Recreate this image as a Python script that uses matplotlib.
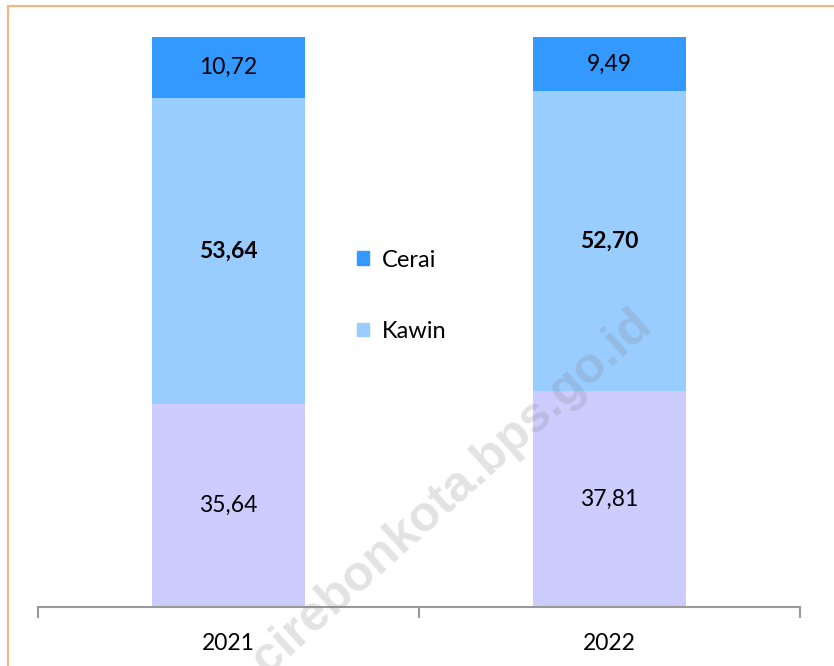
import matplotlib
matplotlib.use("Agg")
import matplotlib.pyplot as plt
from matplotlib.patches import Patch, Rectangle

# data (percent)
years = ["2021", "2022"]
belum_kawin = [35.64, 37.81]
kawin = [53.64, 52.70]
cerai = [10.72, 9.49]

c_belum = "#CCCCFF"
c_kawin = "#99CCFF"
c_cerai = "#3399FF"

plt.rcParams["font.family"] = ["Lato", "DejaVu Sans"]

fig = plt.figure(figsize=(8.34, 6.66), dpi=100)
ax = fig.add_axes([38 / 834, 59 / 666, 762 / 834, 570 / 666])

x = range(len(years))
w = 0.4
ax.bar(x, belum_kawin, w, color=c_belum, linewidth=0)
ax.bar(x, kawin, w, bottom=belum_kawin, color=c_kawin, linewidth=0)
bottom2 = [a + b for a, b in zip(belum_kawin, kawin)]
ax.bar(x, cerai, w, bottom=bottom2, color=c_cerai, linewidth=0)

def fmt(v):
    return f"{v:.2f}".replace(".", ",")

for i in x:
    ax.text(i, belum_kawin[i] / 2, fmt(belum_kawin[i]), ha="center", va="center", fontsize=16.5)
    ax.text(i, belum_kawin[i] + kawin[i] / 2, fmt(kawin[i]), ha="center", va="center",
            fontsize=16.5, fontweight="bold")
    ax.text(i, bottom2[i] + cerai[i] / 2, fmt(cerai[i]), ha="center", va="center", fontsize=16.5)

ax.set_xlim(-0.5, 1.5)
ax.set_ylim(0, 100)
ax.set_yticks([])
ax.set_xticks(list(x))
ax.set_xticklabels(years, fontsize=16.5)
ax.set_xticks([-0.5, 0.5, 1.5], minor=True)
ax.tick_params(axis="x", which="major", length=0, pad=19)
ax.tick_params(axis="x", which="minor", length=8, width=1.5, color="#999999", direction="out")
for s in ["top", "left", "right"]:
    ax.spines[s].set_visible(False)
ax.spines["bottom"].set_color("#999999")
ax.spines["bottom"].set_linewidth(1.5)

handles = [Patch(color=c_cerai), Patch(color=c_kawin)]
fig.legend(handles, ["Cerai", "Kawin"], loc="upper left", bbox_to_anchor=(0.414, 0.643),
           frameon=False, fontsize=17, handlelength=0.5, handleheight=0.5,
           handletextpad=0.55, labelspacing=2.12, borderpad=0)

# watermark
fig.text(452 / 834, 1 - 492 / 666, "cirebonkota.bps.go.id", fontsize=36, fontweight="bold",
         family="Liberation Sans", color="gray", alpha=0.22, rotation=42,
         ha="center", va="center", zorder=10)

# orange frame
fig.patches.append(Rectangle((8 / 834, -0.5), 2, 1.5 - 6 / 666, transform=fig.transFigure,
                             fill=False, edgecolor="#F9B183", linewidth=1.5))

fig.savefig("out.png", dpi=100)
